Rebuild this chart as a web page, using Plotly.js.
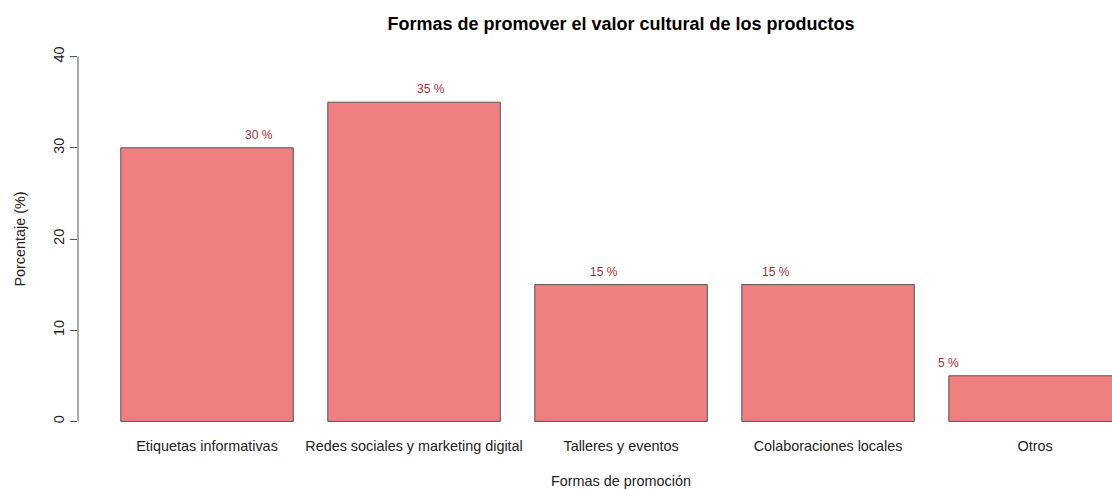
<!DOCTYPE html>
<html>
<head>
<meta charset="utf-8">
<script src="https://cdn.plot.ly/plotly-3.0.1.min.js"></script>
<style>html,body{margin:0;padding:0;background:#fff;}#chart{width:1112px;height:489px;}</style>
</head>
<body>
<div id="chart"></div>
<script>
const categories = ["Etiquetas informativas", "Redes sociales y marketing digital", "Talleres y eventos", "Colaboraciones locales", "Otros"];
const values = [30, 35, 15, 15, 5];
const valueLabels = ["30 %", "35 %", "15 %", "15 %", "5 %"];
const yTicks = [0, 10, 20, 30, 40];

// R barplot layout: width 1, space 0.2 -> centres at 0.7, 1.9, ...
const barX = categories.map((c, i) => 0.7 + 1.2 * i);
// text() labels were placed at 1..n in user coordinates
const labelX = categories.map((c, i) => i + 1);

const font = "Liberation Sans, Arial, sans-serif";

const bars = {
  type: "bar",
  x: barX,
  y: values,
  width: 1,
  marker: {color: "#F08080", line: {color: "#555555", width: 1}},
  hoverinfo: "skip",
  cliponaxis: true
};

const labelAnnotations = values.map((v, i) => ({
  xref: "x", yref: "y", x: labelX[i], y: v,
  text: valueLabels[i], showarrow: false,
  xanchor: "center", yanchor: "bottom", yshift: 4,
  font: {family: font, size: 12, color: "#a03030"}
}));

const layout = {
  width: 1112, height: 489,
  margin: {l: 78, r: 0, t: 42, b: 53},
  paper_bgcolor: "#fff", plot_bgcolor: "#fff",
  showlegend: false,
  font: {family: font, color: "#222"},
  title: {
    text: "<b>Formas de promover el valor cultural de los productos</b>",
    font: {family: font, size: 18, color: "#000"},
    xref: "container", x: 0.5585, xanchor: "center",
    yref: "container", y: 0.952, yanchor: "middle"
  },
  xaxis: {
    range: [-0.048, 5.946],
    tickvals: barX, ticktext: categories,
    showgrid: false, zeroline: false, showline: false,
    ticks: "",
    tickfont: {family: font, size: 14.4, color: "#222"}
  },
  yaxis: {
    range: [-1.6, 41.6],
    tickvals: yTicks,
    showgrid: false, zeroline: false, showline: false,
    ticks: "outside", ticklen: 7, tickcolor: "#555", tickwidth: 1,
    tickangle: -90,
    tickfont: {family: font, size: 14.4, color: "#222"},
    title: {text: "Porcentaje (%)", font: {family: font, size: 14.4, color: "#222"}, standoff: 22}
  },
  shapes: [{
    type: "line", xref: "paper", yref: "y",
    x0: 0, x1: 0, y0: 0, y1: 40,
    line: {color: "#555", width: 1}
  }],
  annotations: labelAnnotations.concat([{
    xref: "paper", yref: "paper", x: 0.5251, y: -0.1142,
    xanchor: "center", yanchor: "middle", showarrow: false,
    text: "Formas de promoción",
    font: {family: font, size: 14.4, color: "#222"}
  }])
};

Plotly.newPlot("chart", [bars], layout, {displayModeBar: false, staticPlot: true});
</script>
</body>
</html>
